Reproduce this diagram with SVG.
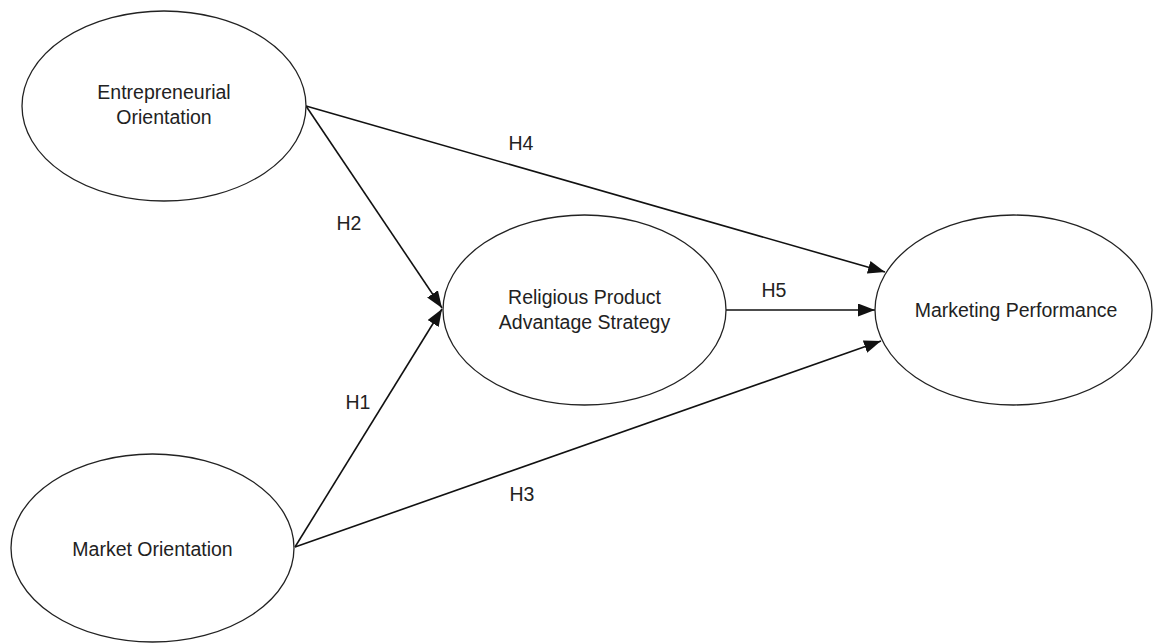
<svg xmlns="http://www.w3.org/2000/svg" width="1153" height="643" viewBox="0 0 1153 643">
<style>
.node ellipse{fill:#fff;stroke:#222;stroke-width:1.3}
text{font-family:"Liberation Sans",Arial,sans-serif;font-size:19.5px;fill:#222;text-anchor:middle}
.edges line{stroke:#111;stroke-width:1.6;marker-end:url(#ah)}
</style>
<defs>
<marker id="ah" markerUnits="userSpaceOnUse" markerWidth="18" markerHeight="13" refX="17" refY="6.5" orient="auto">
<path d="M0,0 L17,6.5 L0,13 Z" fill="#111"/>
</marker>
</defs>
<rect width="1153" height="643" fill="#fff"/>
<g id="edges" class="edges">
<line x1="306" y1="106" x2="885" y2="272"/>
<line x1="306" y1="106" x2="442" y2="308"/>
<line x1="295" y1="547" x2="442" y2="309"/>
<line x1="295" y1="547" x2="881" y2="341"/>
<line x1="726" y1="310" x2="875" y2="310"/>
</g>
<g id="labels">
<text x="521" y="150">H4</text>
<text x="349" y="230">H2</text>
<text x="358" y="409">H1</text>
<text x="522" y="501">H3</text>
<text x="774" y="297">H5</text>
</g>
<g id="eo" class="node">
<ellipse cx="164" cy="106" rx="142" ry="95"/>
<text x="164" y="99">Entrepreneurial</text>
<text x="164" y="124">Orientation</text>
</g>
<g id="mo" class="node">
<ellipse cx="152.5" cy="548" rx="141.5" ry="94"/>
<text x="152.5" y="556">Market Orientation</text>
</g>
<g id="rpas" class="node">
<ellipse cx="584.5" cy="310" rx="141.5" ry="95"/>
<text x="584.5" y="304">Religious Product</text>
<text x="584.5" y="329">Advantage Strategy</text>
</g>
<g id="mp" class="node">
<ellipse cx="1013.5" cy="310" rx="138.5" ry="95"/>
<text x="1016" y="317">Marketing Performance</text>
</g>
</svg>
